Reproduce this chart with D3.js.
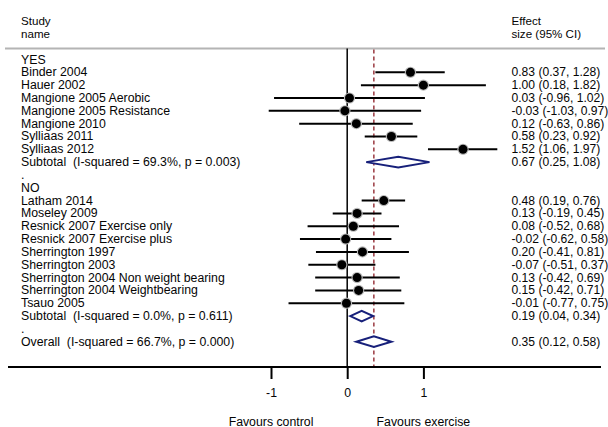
<!DOCTYPE html>
<html>
<head>
<meta charset="utf-8">
<script src="https://cdn.jsdelivr.net/npm/d3@7/dist/d3.min.js"></script>
<style>
  html, body { margin: 0; padding: 0; background: #fff; }
  svg { display: block; font-family: "Liberation Sans", Arial, sans-serif; }
  svg text { white-space: pre; }
</style>
</head>
<body>
<svg id="chart" width="608" height="427"></svg>
<script>
// Subgroup "YES"
const studiesYes = ["Binder 2004", "Hauer 2002", "Mangione 2005 Aerobic", "Mangione 2005 Resistance",
  "Mangione 2010", "Sylliaas 2011", "Sylliaas 2012"];
const esYes = [0.83, 1.00, 0.03, -0.03, 0.12, 0.58, 1.52];
const loYes = [0.37, 0.18, -0.96, -1.03, -0.63, 0.23, 1.06];
const hiYes = [1.28, 1.82, 1.02, 0.97, 0.86, 0.92, 1.97];
const subtotalYes = { label: "Subtotal  (I-squared = 69.3%, p = 0.003)", es: 0.67, lo: 0.25, hi: 1.08 };

// Subgroup "NO"
const studiesNo = ["Latham 2014", "Moseley 2009", "Resnick 2007 Exercise only", "Resnick 2007 Exercise plus",
  "Sherrington 1997", "Sherrington 2003", "Sherrington 2004 Non weight bearing",
  "Sherrington 2004 Weightbearing", "Tsauo 2005"];
const esNo = [0.48, 0.13, 0.08, -0.02, 0.20, -0.07, 0.13, 0.15, -0.01];
const loNo = [0.19, -0.19, -0.52, -0.62, -0.41, -0.51, -0.42, -0.42, -0.77];
const hiNo = [0.76, 0.45, 0.68, 0.58, 0.81, 0.37, 0.69, 0.71, 0.75];
const subtotalNo = { label: "Subtotal  (I-squared = 0.0%, p = 0.611)", es: 0.19, lo: 0.04, hi: 0.34 };

const overall = { label: "Overall  (I-squared = 66.7%, p = 0.000)", es: 0.35, lo: 0.12, hi: 0.58 };

const tickValues = [-1, 0, 1];
const leftNote = "Favours control";
const rightNote = "Favours exercise";

const fmt = v => v.toFixed(2);
const ciText = (e, l, h) => `${fmt(e)} (${fmt(l)}, ${fmt(h)})`;

// Build the row list in display order
const rows = [];
rows.push({ type: "head", label: "YES" });
studiesYes.forEach((s, i) => rows.push({ type: "study", label: s, es: esYes[i], lo: loYes[i], hi: hiYes[i] }));
rows.push(Object.assign({ type: "pool" }, subtotalYes));
rows.push({ type: "blank", label: "." });
rows.push({ type: "head", label: "NO" });
studiesNo.forEach((s, i) => rows.push({ type: "study", label: s, es: esNo[i], lo: loNo[i], hi: hiNo[i] }));
rows.push(Object.assign({ type: "pool" }, subtotalNo));
rows.push({ type: "blank", label: "." });
rows.push(Object.assign({ type: "pool" }, overall));

const svg = d3.select("#chart");
const fs = 12.3;
const fsRight = 12.1;
const ink = "#050505";

const x = d3.scaleLinear().domain([-1, 1]).range([271, 423.4]);
const y = d3.scaleLinear().domain([0, rows.length - 1]).range([59.5, 341.7]);

const headerLineY = 48.5;
const axisY = 367;

// Column headers
const hdr = svg.append("g").attr("font-size", 11.6).attr("fill", ink);
hdr.append("text").attr("x", 21).attr("y", 25.3).text("Study");
hdr.append("text").attr("x", 21).attr("y", 38).text("name");
hdr.append("text").attr("x", 511.5).attr("y", 25.3).text("Effect");
hdr.append("text").attr("x", 511.5).attr("y", 38).text("size (95% CI)");

// Separator under the headers
svg.append("line").attr("x1", 5).attr("x2", 605)
  .attr("y1", headerLineY).attr("y2", headerLineY)
  .attr("stroke", "#b4b4b4").attr("stroke-width", 2);

// Line of no effect
svg.append("line").attr("x1", x(0)).attr("x2", x(0))
  .attr("y1", headerLineY).attr("y2", axisY)
  .attr("stroke", "#000").attr("stroke-width", 1.5);

// Overall effect reference line
svg.append("line").attr("x1", x(overall.es)).attr("x2", x(overall.es))
  .attr("y1", headerLineY + 1).attr("y2", axisY)
  .attr("stroke", "#8b1c24").attr("stroke-width", 1.3)
  .attr("stroke-dasharray", "4,3");

// Labels on the left
svg.append("g").attr("font-size", fs).attr("fill", ink)
  .selectAll("text").data(rows).join("text")
  .attr("x", 21).attr("y", (d, i) => y(i) + 4)
  .text(d => d.label);

// Effect sizes on the right
svg.append("g").attr("font-size", fsRight).attr("fill", ink)
  .selectAll("text").data(rows.map((d, i) => ({ d, i })).filter(o => o.d.es !== undefined))
  .join("text")
  .attr("x", 511.5).attr("y", o => y(o.i) + 4)
  .text(o => ciText(o.d.es, o.d.lo, o.d.hi));

// Study confidence intervals and point estimates
const studyRows = rows.map((d, i) => ({ d, i })).filter(o => o.d.type === "study");
const sg = svg.append("g");
sg.selectAll("line.ci").data(studyRows).join("line")
  .attr("class", "ci")
  .attr("x1", o => x(o.d.lo)).attr("x2", o => x(o.d.hi))
  .attr("y1", o => y(o.i)).attr("y2", o => y(o.i))
  .attr("stroke", "#000").attr("stroke-width", 2);
sg.selectAll("circle.halo").data(studyRows).join("circle")
  .attr("class", "halo")
  .attr("cx", o => x(o.d.es)).attr("cy", o => y(o.i)).attr("r", 5.6)
  .attr("fill", "#b8b8b8");
sg.selectAll("circle.pt").data(studyRows).join("circle")
  .attr("class", "pt")
  .attr("cx", o => x(o.d.es)).attr("cy", o => y(o.i)).attr("r", 4.5)
  .attr("fill", "#000");

// Pooled estimates as diamonds
const poolRows = rows.map((d, i) => ({ d, i })).filter(o => o.d.type === "pool");
const hh = 5.3;
svg.append("g").selectAll("path").data(poolRows).join("path")
  .attr("d", o => {
    const cy = y(o.i);
    return `M${x(o.d.lo)},${cy} L${x(o.d.es)},${cy - hh} L${x(o.d.hi)},${cy} L${x(o.d.es)},${cy + hh} Z`;
  })
  .attr("fill", "#fff").attr("stroke", "#17207a").attr("stroke-width", 2);

// Bottom axis
svg.append("line").attr("x1", 8).attr("x2", 601)
  .attr("y1", axisY).attr("y2", axisY)
  .attr("stroke", "#000").attr("stroke-width", 2);

const axis = d3.axisBottom(x).tickValues(tickValues).tickSize(12).tickPadding(9)
  .tickFormat(d => String(d));
const ag = svg.append("g").attr("transform", `translate(0,${axisY})`).call(axis);
ag.select(".domain").remove();
ag.selectAll(".tick line").attr("stroke", "#000").attr("stroke-width", 2);
ag.selectAll(".tick text").attr("font-size", fs).attr("fill", ink)
  .attr("font-family", "'Liberation Sans', Arial, sans-serif");

svg.append("text").attr("x", x(-1)).attr("y", 425.5).attr("text-anchor", "middle")
  .attr("font-size", fs).attr("fill", ink).text(leftNote);
svg.append("text").attr("x", x(1)).attr("y", 425.5).attr("text-anchor", "middle")
  .attr("font-size", fs).attr("fill", ink).text(rightNote);
</script>
</body>
</html>
